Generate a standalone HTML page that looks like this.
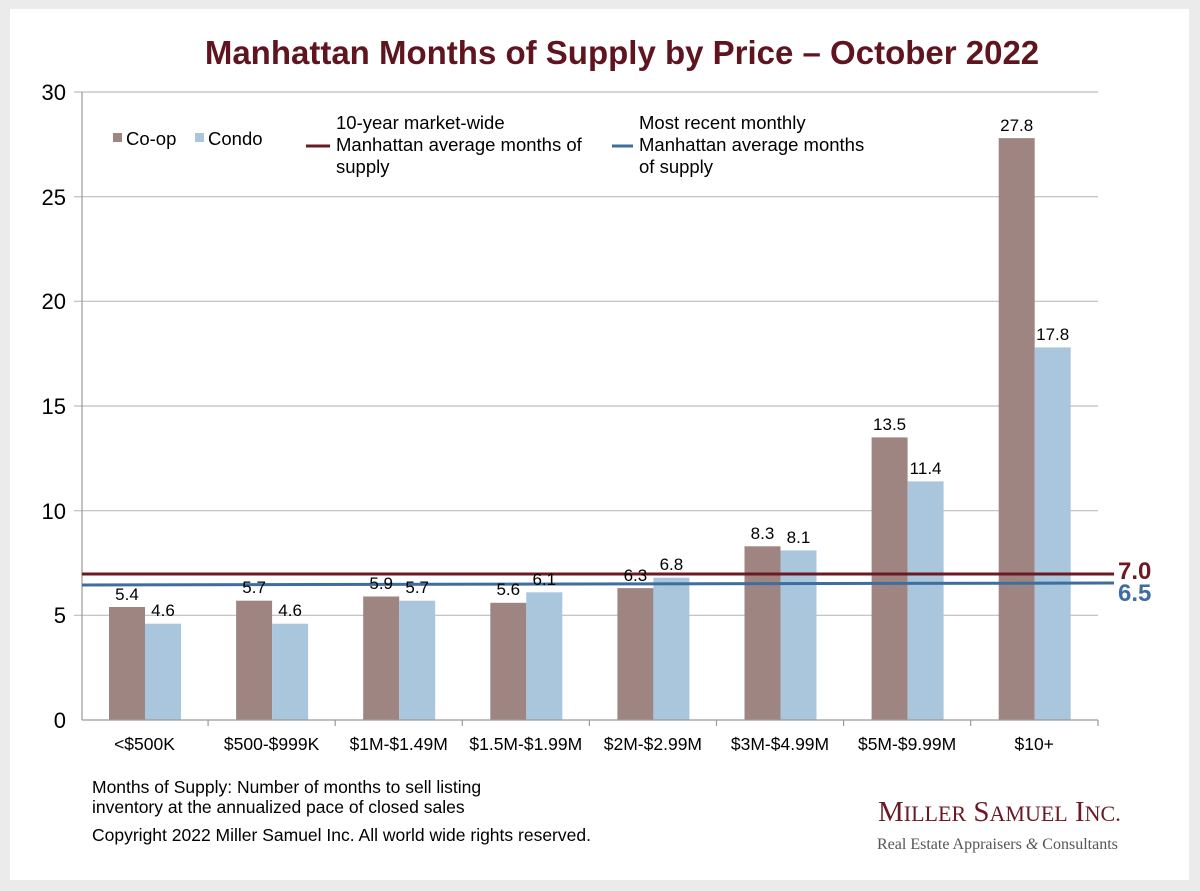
<!DOCTYPE html>
<html><head><meta charset="utf-8"><style>
html,body{margin:0;padding:0;background:#ebebeb;}
svg{display:block;font-family:"Liberation Sans",Arial,sans-serif;}
</style></head><body>
<svg width="1200" height="891" viewBox="0 0 1200 891" xmlns="http://www.w3.org/2000/svg">
<rect x="0" y="0" width="1200" height="891" fill="#ebebeb"/>
<rect x="10" y="9" width="1179" height="871" fill="#fff"/>
<text x="622" y="64" text-anchor="middle" font-size="33" font-weight="bold" fill="#5e1520">Manhattan Months of Supply by Price – October 2022</text>
<g stroke="#bdbdbd" stroke-width="1.2">
<line x1="74" y1="92" x2="1098" y2="92"/><line x1="74" y1="196.7" x2="1098" y2="196.7"/>
<line x1="74" y1="301.3" x2="1098" y2="301.3"/><line x1="74" y1="406" x2="1098" y2="406"/>
<line x1="74" y1="510.7" x2="1098" y2="510.7"/><line x1="74" y1="615.3" x2="1098" y2="615.3"/>
</g>
<g font-size="22" fill="#000" text-anchor="end">
<text x="66" y="100">30</text><text x="66" y="205">25</text><text x="66" y="309">20</text>
<text x="66" y="414">15</text><text x="66" y="519">10</text><text x="66" y="623">5</text><text x="66" y="728">0</text>
</g>
<g fill="#9e8582">
<rect x="109" y="607" width="36" height="113"/><rect x="236.1" y="600.7" width="36" height="119.3"/>
<rect x="363.2" y="596.5" width="36" height="123.5"/><rect x="490.3" y="602.8" width="36" height="117.2"/>
<rect x="617.4" y="588.1" width="36" height="131.9"/><rect x="744.5" y="546.3" width="36" height="173.7"/>
<rect x="871.6" y="437.4" width="36" height="282.6"/><rect x="998.7" y="138.1" width="36" height="581.9"/>
</g>
<g fill="#a9c6dc">
<rect x="145" y="623.7" width="36" height="96.3"/><rect x="272.1" y="623.7" width="36" height="96.3"/>
<rect x="399.2" y="600.7" width="36" height="119.3"/><rect x="526.3" y="592.3" width="36" height="127.7"/>
<rect x="653.4" y="577.7" width="36" height="142.3"/><rect x="780.5" y="550.4" width="36" height="169.6"/>
<rect x="907.6" y="481.4" width="36" height="238.6"/><rect x="1034.7" y="347.4" width="36" height="372.6"/>
</g>
<line x1="82" y1="92" x2="82" y2="720" stroke="#9a9a9a" stroke-width="1.2"/>
<line x1="82" y1="720" x2="1098" y2="720" stroke="#9a9a9a" stroke-width="1.2"/>
<g stroke="#9a9a9a" stroke-width="1.2">
<line x1="208.1" y1="720" x2="208.1" y2="726"/><line x1="335.2" y1="720" x2="335.2" y2="726"/>
<line x1="462.3" y1="720" x2="462.3" y2="726"/><line x1="589.4" y1="720" x2="589.4" y2="726"/>
<line x1="716.5" y1="720" x2="716.5" y2="726"/><line x1="843.6" y1="720" x2="843.6" y2="726"/>
<line x1="970.7" y1="720" x2="970.7" y2="726"/><line x1="1098" y1="720" x2="1098" y2="726"/>
</g>
<line x1="82" y1="574" x2="1114" y2="574" stroke="#6b1a24" stroke-width="3"/>
<line x1="82" y1="585" x2="1114" y2="583" stroke="#3f6e9e" stroke-width="3"/>
<text x="1118" y="579" font-size="24" font-weight="bold" fill="#6b1a24">7.0</text>
<text x="1118" y="601" font-size="24" font-weight="bold" fill="#3f6e9e">6.5</text>
<g font-size="17" fill="#000" text-anchor="middle">
<text x="127" y="600">5.4</text><text x="163" y="616">4.6</text>
<text x="254.1" y="593">5.7</text><text x="290.1" y="616">4.6</text>
<text x="381.2" y="589">5.9</text><text x="417.2" y="593">5.7</text>
<text x="508.3" y="595">5.6</text><text x="544.3" y="585">6.1</text>
<text x="635.4" y="581">6.3</text><text x="671.4" y="570">6.8</text>
<text x="762.5" y="539">8.3</text><text x="798.5" y="543">8.1</text>
<text x="889.6" y="430">13.5</text><text x="925.6" y="474">11.4</text>
<text x="1016.7" y="131">27.8</text><text x="1052.7" y="340">17.8</text>
</g>
<g font-size="17.5" fill="#000" text-anchor="middle">
<text x="144.5" y="750">&lt;$500K</text><text x="271.6" y="750">$500-$999K</text>
<text x="398.7" y="750">$1M-$1.49M</text><text x="525.8" y="750">$1.5M-$1.99M</text>
<text x="652.9" y="750">$2M-$2.99M</text><text x="780" y="750">$3M-$4.99M</text>
<text x="907.1" y="750">$5M-$9.99M</text><text x="1034.2" y="750">$10+</text>
</g>
<rect x="113" y="133" width="9" height="9" fill="#9e8582"/>
<text x="126" y="145" font-size="18.5">Co-op</text>
<rect x="195" y="133" width="9" height="9" fill="#a9c6dc"/>
<text x="208" y="145" font-size="18.5">Condo</text>
<line x1="306" y1="146" x2="330" y2="146" stroke="#6b1a24" stroke-width="3"/>
<text font-size="18.5"><tspan x="336" y="129">10-year market-wide</tspan><tspan x="336" y="151">Manhattan average months of</tspan><tspan x="336" y="173">supply</tspan></text>
<line x1="612" y1="146" x2="633" y2="146" stroke="#3f6e9e" stroke-width="3"/>
<text font-size="18.5"><tspan x="639" y="129">Most recent monthly</tspan><tspan x="639" y="151">Manhattan average months</tspan><tspan x="639" y="173">of supply</tspan></text>
<text font-size="17.5"><tspan x="92" y="793">Months of Supply: Number of months to sell listing</tspan><tspan x="92" y="813">inventory at the annualized pace of closed sales</tspan><tspan x="92" y="841">Copyright 2022 Miller Samuel Inc.  All world wide rights reserved.</tspan></text>
<text x="878" y="821" font-family="Liberation Serif,serif" font-size="29" fill="#6b1a24">M<tspan font-size="22">ILLER</tspan> S<tspan font-size="22">AMUEL</tspan> I<tspan font-size="22">NC.</tspan></text>
<text x="877" y="849" font-family="Liberation Serif,serif" font-size="16" fill="#555">Real Estate Appraisers <tspan font-style="italic">&amp;</tspan> Consultants</text>
</svg>
</body></html>
